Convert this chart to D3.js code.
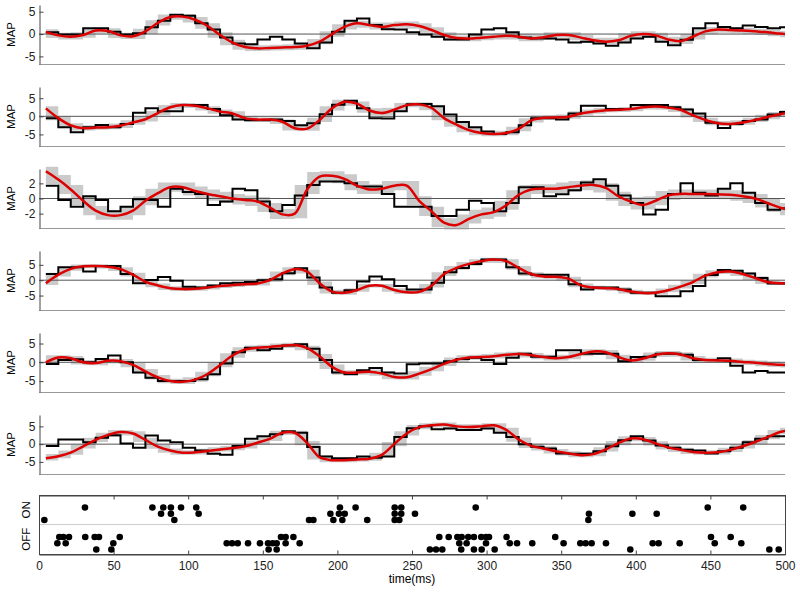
<!DOCTYPE html>
<html>
<head>
<meta charset="utf-8">
<script src="https://cdn.jsdelivr.net/npm/d3@7"></script>
<style>
  body { margin: 0; background: #fff; }
  svg { font-family: "Liberation Sans", Arial, sans-serif; }
</style>
</head>
<body>
<div id="chart"></div>
<script>
// step bins (ms)
var binStart = 4.6, binWidth = 8.34, nBins = 60;

// black stepped traces, one value per bin
var black1 = [0.4,-0.1,-0.1,1.3,1.3,0.5,-0.1,0.2,1.5,3.0,4.3,4.1,2.4,1.0,-0.75,-2.1,-2.3,-1.2,-0.6,-1.2,-2.1,-3.2,-1.9,0.5,3.0,3.5,2.0,1.1,1.0,0.4,-0.1,-0.6,-1.2,-1.2,-0.1,1.0,1.3,0.4,-0.75,-1.0,-1.0,-1.2,-1.9,-1.7,-2.1,-2.6,-1.9,-1.0,-0.6,-1.7,-2.5,-1.3,1.3,2.4,1.6,1.3,1.9,1.6,1.3,1.5];
var black2 = [-0.5,-3.0,-4.4,-3.0,-2.4,-3.0,-2.1,1.0,2.2,1.4,1.4,3.1,3.1,2.0,0.3,-0.9,-1.1,-1.1,-0.9,-1.3,-2.5,-1.9,0.6,3.2,4.3,2.2,-0.5,-0.6,1.4,3.3,3.4,2.8,0.5,-1.6,-3.0,-4.2,-4.9,-4.4,-2.5,-0.5,-0.5,-0.85,0.75,2.9,2.9,2.0,2.0,3.1,3.1,3.1,2.5,1.9,0.75,-1.8,-3.2,-2.1,-1.3,-0.9,0.5,1.2];
var black3 = [1.7,-0.2,-1.1,0.3,-0.2,-1.7,-1.1,-0.1,-0.2,-1.1,1.3,0.85,0.6,-0.85,-0.4,1.3,1.1,-0.4,-1.7,-0.85,0.4,1.8,2.25,2.25,2.0,1.6,1.6,0.6,-1.1,-1.1,-1.1,-2.3,-2.3,-1.5,-0.3,-0.6,-1.7,-0.6,1.5,1.5,0.3,0.55,1.1,2.1,2.55,1.7,0.4,-0.6,-2.1,-1.5,0.6,2.0,0.75,0.4,1.3,2.0,0.75,-0.6,-1.5,-1.3];
var black4 = [2.0,4.2,4.2,2.8,4.6,4.6,2.0,-1.0,0.1,1.0,-0.2,-2.1,-2.4,-1.7,-1.0,-0.8,-0.55,0.0,0.3,2.3,3.9,0.9,-2.4,-4.1,-3.3,-0.45,1.2,0.3,-1.9,-3.0,-3.0,-0.8,2.6,4.0,5.3,6.7,6.7,4.2,2.2,1.8,1.8,1.8,-1.3,-3.0,-2.4,-2.4,-3.0,-4.1,-4.1,-5.2,-5.2,-3.6,-1.9,1.7,3.3,3.1,2.2,0.7,-1.1,-1.1];
var black5 = [-0.45,0.6,0.8,0.0,0.9,1.8,0.0,-2.7,-4.1,-5.0,-5.0,-5.0,-4.5,-3.2,-0.3,2.7,3.9,3.2,3.6,4.5,4.8,3.6,0.6,-2.7,-3.2,-2.1,-1.5,-2.7,-3.0,-0.5,-0.3,-0.3,0.3,0.9,1.2,0.6,-0.45,1.2,2.3,1.5,1.5,3.2,3.2,2.3,2.3,2.3,0.3,1.4,1.5,2.3,2.3,2.0,0.6,0.6,1.1,-0.9,-2.7,-2.3,-2.7,-2.7];
var black6 = [-0.5,1.3,1.3,0.5,1.8,2.5,0.2,-1.0,2.4,1.0,0.5,-1.0,-1.8,-2.7,-3.0,-0.5,1.5,2.2,2.8,3.6,3.2,-0.8,-3.5,-4.0,-4.0,-3.5,-3.8,-3.5,2.0,4.5,5.0,4.2,4.4,4.0,4.0,4.4,3.2,2.0,0.0,-0.7,-1.2,-2.6,-2.7,-2.7,-2.0,-0.6,1.1,2.2,1.0,-0.4,-1.0,-1.6,-1.8,-2.6,-2.0,-1.0,0.5,1.5,2.2,2.2];

// red smooth estimates, one value per bin edge
var red1 = [0.5,-0.3,-0.6,-0.2,0.8,0.7,-0.3,-0.5,0.6,2.5,3.8,3.9,3.2,1.8,-0.2,-1.9,-2.9,-3.2,-3.1,-3.0,-2.9,-2.6,-1.7,0.0,1.6,2.4,2.0,1.6,2.0,2.2,1.8,0.9,-0.2,-0.9,-1.0,-0.8,-0.6,-0.4,-0.6,-1.0,-0.7,-0.2,-0.2,-0.8,-1.4,-1.7,-1.4,-0.4,0.0,-0.3,-1.2,-1.6,-0.6,0.6,1.0,0.9,0.8,0.6,0.4,0.1,-0.1];
var red2 = [2.2,-0.5,-2.5,-3.3,-3.1,-3.0,-2.6,-1.7,-0.8,0.9,2.5,3.1,2.9,2.2,1.3,0.8,-0.5,-0.9,-0.9,-1.5,-3.3,-3.4,-1.0,2.2,4.0,3.5,1.6,0.9,1.8,3.1,3.3,2.3,-0.5,-2.3,-3.8,-4.6,-4.9,-4.6,-3.5,-1.1,-0.4,-0.3,-0.1,0.8,1.3,1.7,1.8,2.0,2.5,2.7,2.4,1.8,0.3,-1.0,-1.9,-2.1,-1.7,-1.0,-0.2,0.6,1.1];
var red3 = [3.6,2.5,1.2,-0.3,-1.6,-2.2,-2.2,-1.6,-0.3,0.7,1.5,1.5,1.0,0.6,0.3,0.0,-0.2,-0.4,-1.2,-2.1,-2.0,1.2,2.9,3.0,2.6,1.7,1.2,1.3,1.7,1.7,-0.3,-1.7,-3.2,-3.5,-2.7,-2.1,-1.8,-0.9,0.5,1.2,1.3,1.3,1.5,1.7,1.8,1.4,0.3,-0.4,-0.85,-0.3,0.4,0.6,0.6,0.6,0.55,0.5,0.3,0.0,-0.6,-1.2,-1.6];
var red4 = [-1.0,1.8,3.7,4.5,4.6,4.4,3.6,1.8,-0.5,-1.7,-2.6,-2.9,-2.8,-2.4,-1.9,-1.6,-1.3,-1.1,0.0,2.2,3.6,2.8,-1.0,-3.7,-4.1,-3.2,-1.8,-1.8,-3.2,-3.9,-3.8,-1.8,2.0,4.0,5.3,6.2,6.7,6.2,4.0,2.0,1.2,1.1,0.5,-1.7,-2.4,-2.6,-2.9,-3.7,-4.2,-4.1,-3.3,-2.1,-0.6,1.5,2.6,2.8,2.0,0.7,-0.6,-1.0,-1.0];
var red5 = [0.0,1.3,1.1,0.0,-0.2,0.4,0.3,-0.7,-2.4,-4.0,-5.0,-5.2,-4.6,-3.1,-0.7,1.8,3.4,3.9,4.1,4.4,4.6,3.8,1.6,-1.2,-2.7,-2.7,-2.5,-3.0,-3.9,-4.0,-3.0,-1.8,-0.4,0.7,1.3,1.4,1.6,2.0,2.2,1.9,1.4,1.1,1.4,2.2,2.9,2.7,1.4,0.5,1.0,2.0,2.4,2.1,1.1,0.6,0.5,0.4,0.1,-0.1,-0.45,-0.65,-0.8];
var red6 = [-4.0,-3.4,-2.4,-0.6,1.2,2.6,3.4,3.0,1.2,-0.7,-1.8,-2.4,-2.3,-1.9,-1.5,-1.1,-0.6,0.4,1.5,3.2,3.2,0.3,-3.7,-4.5,-4.5,-4.3,-4.1,-3.0,0.0,3.0,4.8,5.3,5.5,5.0,4.8,5.0,5.3,4.0,1.3,-0.5,-1.2,-2.0,-2.6,-3.1,-2.8,-1.5,0.3,1.6,1.4,0.2,-0.9,-1.6,-2.2,-2.4,-2.3,-1.6,-0.6,0.6,2.0,3.4,4.0];

var yLimits = [[-6.7,6.5],[-8.2,8.1],[-3.9,3.9],[-9.7,9.5],[-7.9,7.8],[-8.4,8.2]];
var yTicks = [[-5,0,5],[-5,0,5],[-2,0,2],[-5,0,5],[-5,0,5],[-5,0,5]];
var bandPad = 0.6;

// spikes: [time ms, lane]
var onSpikes = [[3.6,2],[30.8,0],[76,0],[81.8,1],[83.3,0],[88.4,0],[88.4,1],[90.7,2],[95.2,0],[105.4,0],[107,1],[181,2],[183.9,2],[195.3,1],[197.3,2],[201.7,0],[201,1],[203.3,2],[204.9,1],[212.2,0],[220,2],[238.4,0],[242.8,0],[238.4,1],[242.8,1],[238.4,2],[241.5,2],[252,1],[292.7,0],[368.6,1],[368.2,2],[397.7,1],[414,1],[448.2,0],[472,0]];
var offSpikes = [[12.3,1],[13.6,0],[16.3,0],[17.9,1],[20.1,0],[31,0],[37.3,0],[38.4,2],[40.2,0],[48.5,2],[49.8,1],[54.1,0],[125.8,1],[129.4,1],[133.2,1],[140.1,1],[148.1,1],[153.5,1],[153.9,2],[156.6,1],[159.3,1],[159.3,2],[162.2,0],[165.3,0],[165.3,1],[170.5,0],[174.7,1],[262,2],[266.1,2],[268.3,0],[270.3,2],[274.6,0],[280.4,0],[281.7,1],[283,2],[283.3,0],[286.6,1],[287.7,0],[291.5,0],[291.5,2],[296.4,0],[296.7,2],[299.6,1],[299.6,0],[301.6,0],[305.4,2],[313.4,0],[315.5,1],[320.4,1],[330.6,1],[346,0],[351.6,1],[362.8,1],[366.4,1],[370.4,1],[380,1],[396.3,2],[411.3,1],[415.3,1],[429.4,1],[450.4,0],[452.9,1],[463.6,0],[470.7,1],[489.5,2],[495.8,2]];
var rows = ["ON", "OFF"];
var xTicks = d3.range(0, 501, 50);

var width = 800, height = 592;
var left = 39, right = 785;

var svg = d3.select("#chart").append("svg")
    .attr("width", width)
    .attr("height", height);

var x = d3.scaleLinear().domain([0, 500]).range([left, right]);
var edges = d3.range(nBins + 1).map(k => binStart + k * binWidth);

var blacks = [black1, black2, black3, black4, black5, black6];
var reds = [red1, red2, red3, red4, red5, red6];

blacks.forEach(function(bl, i) {
  var top = 5 + i * 82, bottom = top + 59;
  var y = d3.scaleLinear().domain(yLimits[i]).range([bottom, top]);
  var rd = reds[i];

  svg.append("clipPath").attr("id", "clip" + i)
    .append("rect").attr("x", left).attr("y", top - 5)
    .attr("width", right - left).attr("height", bottom - top + 10);

  var g = svg.append("g").attr("clip-path", "url(#clip" + i + ")");

  // grey band
  var band = bl.map((v, k) => {
    var lo = Math.min(rd[k], rd[k + 1]) - bandPad, hi = Math.max(rd[k], rd[k + 1]) + bandPad;
    return {t: edges[k], lo: lo, hi: hi};
  });
  band.push({t: 500, lo: band[band.length - 1].lo, hi: band[band.length - 1].hi});
  g.append("path")
      .attr("d", d3.area().curve(d3.curveStepAfter)
        .x(d => x(d.t)).y0(d => y(d.lo)).y1(d => y(d.hi))(band))
      .attr("fill", "#cacaca");

  // zero line
  g.append("line")
      .attr("x1", left).attr("x2", right)
      .attr("y1", y(0)).attr("y2", y(0))
      .attr("stroke", "#555").attr("stroke-width", 1);

  var steps = bl.map((v, k) => [edges[k], v]);
  steps.push([500, bl[bl.length - 1]]);
  g.append("path")
      .attr("d", d3.line().curve(d3.curveStepAfter).x(d => x(d[0])).y(d => y(d[1]))(steps))
      .attr("fill", "none").attr("stroke", "#000").attr("stroke-width", 2);

  g.append("path")
      .attr("d", d3.line().curve(d3.curveCatmullRom).x((d, k) => x(edges[k])).y(d => y(d))(rd))
      .attr("fill", "none").attr("stroke", "#dd0000").attr("stroke-width", 2.5);

  // bottom line
  svg.append("line")
      .attr("x1", left).attr("x2", right)
      .attr("y1", bottom + 0.5).attr("y2", bottom + 0.5)
      .attr("stroke", "#999").attr("stroke-width", 1);

  var ax = svg.append("g")
      .attr("transform", "translate(" + (left + 0.5) + ",0)")
      .call(d3.axisLeft(y).tickValues(yTicks[i]).tickSizeInner(-4).tickSizeOuter(0).tickPadding(4)
        .tickFormat(d => d < 0 ? "-" + Math.abs(d) : d));
  ax.selectAll("text").style("font-size", "12px").attr("fill", "#222");
  ax.selectAll("line, path").attr("stroke", "#444");

  svg.append("text")
      .attr("transform", "translate(15," + (top + bottom) / 2 + ") rotate(-90)")
      .attr("text-anchor", "middle")
      .style("font-size", "11.5px")
      .text("MAP");
});

// raster panel
var rTop = 495, rBottom = 554;
var yRow = d3.scaleBand().domain(rows).range([rTop, rBottom]);
var yLane = d3.scalePoint().domain([0, 1, 2]).range([12.5, 25]);

svg.append("line")
    .attr("x1", left).attr("x2", right)
    .attr("y1", yRow("OFF")).attr("y2", yRow("OFF"))
    .attr("stroke", "#cfcfcf").attr("stroke-width", 1);

var bx = svg.append("g").attr("transform", "translate(0," + (rBottom + 0.5) + ")")
    .call(d3.axisBottom(x).tickValues(xTicks).tickSizeInner(-4).tickSizeOuter(0).tickPadding(7));
bx.selectAll("text").style("font-size", "12px").attr("fill", "#222");
bx.selectAll("line, path").attr("stroke", "#444");

var tx = svg.append("g").attr("transform", "translate(0," + (rTop + 0.5) + ")")
    .call(d3.axisTop(x).tickValues(xTicks).tickSizeInner(-4).tickSizeOuter(0).tickFormat(""));
tx.selectAll("line, path").attr("stroke", "#444");

svg.append("rect")
    .attr("x", left + 0.5).attr("y", rTop + 0.5)
    .attr("width", right - left).attr("height", rBottom - rTop)
    .attr("fill", "none").attr("stroke", "#444");

var spikes = onSpikes.map(d => ({t: d[0], lane: d[1], row: "ON"}))
    .concat(offSpikes.map(d => ({t: d[0], lane: d[1], row: "OFF"})));

svg.append("g").selectAll("circle")
    .data(spikes)
    .join("circle")
      .attr("cx", d => x(d.t))
      .attr("cy", d => yRow(d.row) + yLane(d.lane))
      .attr("r", 3.3)
      .attr("fill", "#000");

rows.forEach(function(r) {
  svg.append("text")
      .attr("transform", "translate(30," + (yRow(r) + yRow.bandwidth() / 2) + ") rotate(-90)")
      .attr("text-anchor", "middle")
      .style("font-size", "11.5px")
      .text(r);
});

svg.append("text")
    .attr("x", (left + right) / 2).attr("y", 583)
    .attr("text-anchor", "middle")
    .style("font-size", "12px")
    .text("time(ms)");
</script>
</body>
</html>
